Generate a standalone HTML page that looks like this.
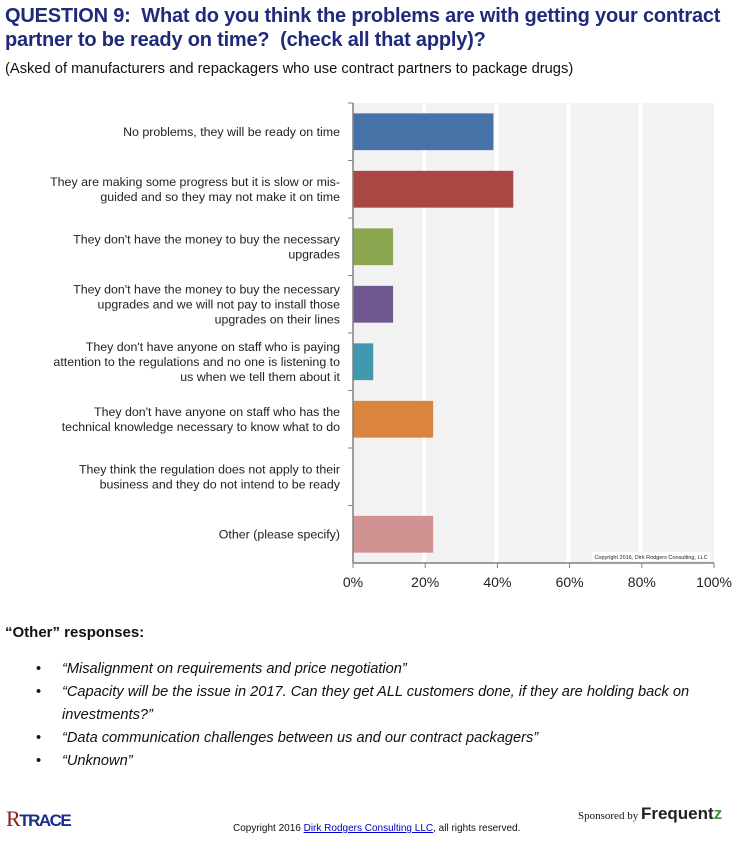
<!DOCTYPE html>
<html><head><meta charset="utf-8"><style>
body{margin:0;width:739px;height:841px;background:#fff;font-family:"Liberation Sans",sans-serif;position:relative;overflow:hidden}
.t{position:absolute;left:5px;top:4px;font-size:20px;font-weight:bold;color:#1f2a7a;line-height:24px;letter-spacing:-0.2px;white-space:nowrap}
.s{position:absolute;left:5px;top:61px;font-size:14.7px;color:#111;white-space:nowrap}
.oh{position:absolute;left:5px;top:624px;font-size:15px;font-weight:bold;color:#111}
ul{position:absolute;left:22px;top:658px;margin:0;padding:0 0 0 40px;width:650px;font-size:14.6px;font-style:italic;color:#111;line-height:23px}
li{list-style:none;position:relative}
li:before{content:"•";position:absolute;left:-26px;font-style:normal}
</style></head><body>
<div class="t">QUESTION 9:&nbsp; What do you think the problems are with getting your contract<br>partner to be ready on time?&nbsp; (check all that apply)?</div>
<div class="s">(Asked of manufacturers and repackagers who use contract partners to package drugs)</div>
<svg id="chart" style="position:absolute;left:0;top:0" width="739" height="600"></svg>
<div class="oh">“Other” responses:</div>
<ul>
<li>“Misalignment on requirements and price negotiation”</li>
<li>“Capacity will be the issue in 2017. Can they get ALL customers done, if they are holding back on investments?”</li>
<li>“Data communication challenges between us and our contract packagers”</li>
<li>“Unknown”</li>
</ul>
<div style="position:absolute;left:6px;top:806px;font-size:17px;font-weight:bold;color:#1a2f8a;letter-spacing:-1.5px"><span style="color:#8b1a1a;font-family:'Liberation Serif',serif;font-weight:normal;font-size:22px">R</span>TRACE</div>
<div style="position:absolute;left:233px;top:823px;font-size:10px;color:#111">Copyright 2016 <span style="color:#00c;text-decoration:underline">Dirk Rodgers Consulting LLC</span>, all rights reserved.</div>
<div style="position:absolute;left:578px;top:804px;font-size:11px;color:#111;font-family:'Liberation Serif',serif">Sponsored by <span style="font-family:'Liberation Sans',sans-serif;font-weight:bold;font-size:17px;color:#222">Frequent<span style="color:#3a9a3a">z</span></span></div>
<script>
const categories=[["No problems, they will be ready on time"],["They are making some progress but it is slow or mis-","guided and so they may not make it on time"],["They don't have the money to buy the necessary","upgrades"],["They don't have the money to buy the necessary","upgrades and we will not pay to install those","upgrades on their lines"],["They don't have anyone on staff who is paying","attention to the regulations and no one is listening to","us when we tell them about it"],["They don't have anyone on staff who has the","technical knowledge necessary to know what to do"],["They think the regulation does not apply to their","business and they do not intend to be ready"],["Other (please specify)"]];
const values=[38.9,44.4,11.1,11.1,5.6,22.2,0,22.2];
const colors=["#4672a8","#aa4744","#8ba64f","#715790","#4198af","#db843d","#93a9cf","#d19392"];
const ticks=[0,20,40,60,80,100];
const svg=document.getElementById('chart'),NS="http://www.w3.org/2000/svg";
const L=353,R=714,T=103,B=563,band=(B-T)/categories.length;
const x=v=>L+(R-L)*v/100, y=i=>T+band*i;
function mk(t,a){const e=document.createElementNS(NS,t);for(const k in a)e.setAttribute(k,a[k]);svg.appendChild(e);return e;}
let bg=mk('rect',{x:L,y:T,width:R-L,height:B-T,fill:'#f2f2f2'});


ticks.forEach(t=>{
 if(t>0&&t<100){let g=mk('line',{x1:x(t)-1,x2:x(t)-1,y1:T,y2:B,stroke:'#fff','stroke-width':4});
 
 }
 let tk=mk('line',{x1:x(t),x2:x(t),y1:B,y2:B+5,stroke:'#808080'});
 
 
 let tl=mk('text',{x:x(t),y:B+24,'text-anchor':'middle','font-size':14,fill:'#222'});tl.textContent=t+'%';
 
 
});
categories.forEach((c,i)=>{
 let b=mk('rect',{x:L,y:y(i)+band*0.18,width:x(values[i])-L,height:band*0.64,fill:colors[i]});
 
 
 let cy=y(i)+band/2, lh=15, y0=cy-(c.length-1)*lh/2+4;
 c.forEach((line,j)=>{let t=mk('text',{x:340,y:y0+j*lh,'text-anchor':'end','font-size':12.4,fill:'#222'});t.textContent=line;
 
 });
 let tk=mk('line',{x1:L-5,x2:L,y1:y(i),y2:y(i),stroke:'#808080'});
 
 
});
let ax=mk('line',{x1:L,x2:L,y1:T,y2:B,stroke:'#808080','stroke-width':1.5});


let xa=mk('line',{x1:L,x2:R,y1:B,y2:B,stroke:'#808080','stroke-width':1.5});


let cr=mk('rect',{x:592,y:552,width:118,height:9,fill:'#fff'});


let ct=mk('text',{x:651,y:559,'text-anchor':'middle','font-size':5.5,fill:'#222'});ct.textContent='Copyright 2016, Dirk Rodgers Consulting, LLC';


</script>
</body></html>
